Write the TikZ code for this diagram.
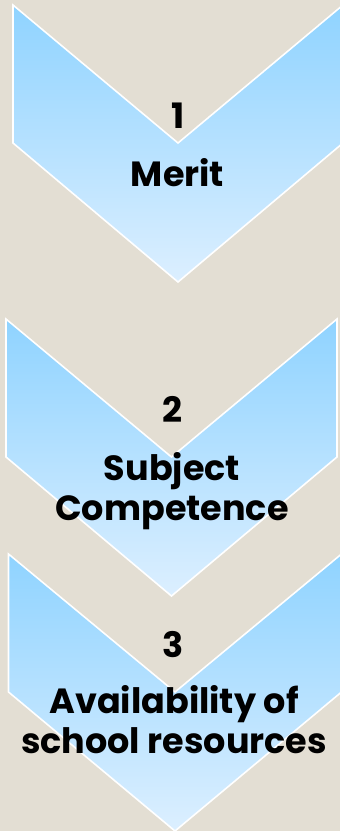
\documentclass[tikz,border=0pt]{standalone}
\usepackage{fontspec}
\setmainfont{Poppins}
\usetikzlibrary{positioning}

\definecolor{paper}{RGB}{227,222,211}
\definecolor{chevtop}{RGB}{143,211,255}
\definecolor{chevbottom}{RGB}{220,239,255}

% chevron: centre x, top y, half width
\newcommand{\chevron}[3]{%
  \path[chevronbox] (#1-#3,#2) -- (#1,#2+138) -- (#1+#3,#2) -- (#1+#3,#2+138)
    -- (#1,#2+277) -- (#1-#3,#2+138) -- cycle;}

\begin{document}
\begin{tikzpicture}[
		x=1pt,y=-1pt,
		chevronbox/.style={draw=white, line width=1.6pt, top color=chevtop, bottom color=chevbottom, line join=miter},
		stepnum/.style={font=\fontsize{35}{40}\selectfont\bfseries, anchor=base, inner sep=0pt},
		steptext/.style={font=\fontsize{35}{40}\selectfont\bfseries, anchor=base, align=center, inner sep=0pt},
	]
	% Background and frame
	\fill[paper] (0,0) rectangle (340,831);
	\useasboundingbox (0,0) rectangle (340,831);
	\clip (0,0) rectangle (340,831);
	% Draw the chevrons
	\chevron{178}{5}{165}
	\chevron{171.5}{319}{165.5}
	\chevron{175}{554}{166.5}
	% Draw the labels (multi-line nodes sit on their last baseline)
	\node (num1) [stepnum] at (178,128) {1};
	\node (merit) [steptext] at (177.5,186) {Merit};
	\node (num2) [stepnum] at (172,422) {2};
	\node (subject) [steptext] at (172,520) {Subject\\Competence};
	\node (num3) [stepnum] at (173,657) {3};
	\node (avail) [steptext] at (174,753) {Availability of\\school resources};
\end{tikzpicture}
\end{document}
